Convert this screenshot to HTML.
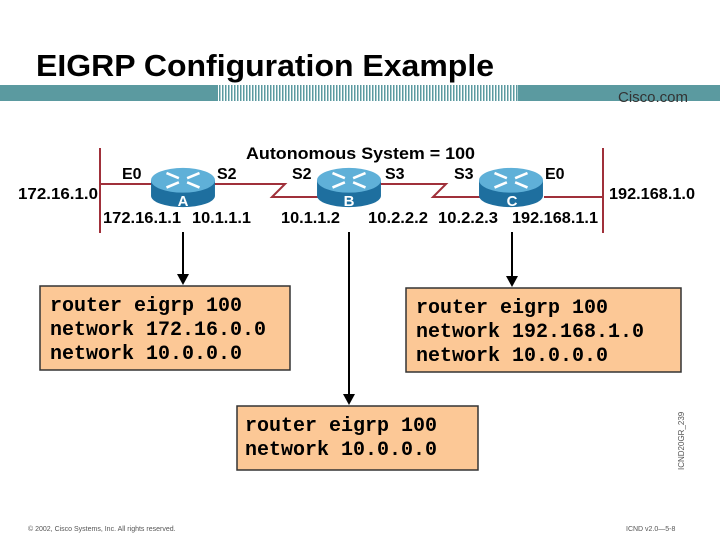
<html><body style="margin:0;background:#fff">
<svg width="720" height="540" xmlns="http://www.w3.org/2000/svg" font-family="Liberation Sans, sans-serif">
<defs>
<pattern id="st" width="3" height="16" patternUnits="userSpaceOnUse"><rect width="3" height="16" fill="#fff"/><rect width="1.5" height="16" fill="#5b9aa0"/></pattern>
<symbol id="r" viewBox="0 0 64 40">
<path d="M1,13 L1,28 A31,11 0 0 0 63,28 L63,13 Z" fill="#1e6f9f"/>
<ellipse cx="32" cy="13" rx="31" ry="12" fill="#5fb0d8"/>
<g stroke="#fff" stroke-width="2.5" fill="none">
<path d="M16,6 L28,11 M48,6 L36,11 M16,20 L28,15 M48,20 L36,15"/>
</g>
</symbol>
</defs>
<text x="36" y="76" font-size="31" font-weight="bold" textLength="458" lengthAdjust="spacingAndGlyphs">EIGRP Configuration Example</text>
<rect x="0" y="85" width="720" height="16" fill="#5b9aa0"/>
<rect x="218" y="85" width="300" height="16" fill="url(#st)"/>
<text x="618" y="102" font-size="15" fill="#333">Cisco.com</text>
<text x="246" y="159" font-size="17" font-weight="bold" textLength="229" lengthAdjust="spacingAndGlyphs">Autonomous System = 100</text>
<g stroke="#a0303a" stroke-width="2" fill="none">
<line x1="100" y1="148" x2="100" y2="233"/><line x1="603" y1="148" x2="603" y2="233"/>
<line x1="100" y1="184" x2="152" y2="184"/>
<polyline points="214,184 285,184 272,197 318,197"/>
<polyline points="380,184 446,184 433,197 480,197"/>
<line x1="544" y1="197" x2="603" y2="197"/>
</g>
<use href="#r" x="150" y="166" width="66" height="43"/>
<use href="#r" x="316" y="166" width="66" height="43"/>
<use href="#r" x="478" y="166" width="66" height="43"/>
<g font-size="15" font-weight="bold" fill="#fff" text-anchor="middle"><text x="183" y="206">A</text><text x="349" y="206">B</text><text x="512" y="206">C</text></g>
<g font-size="16" font-weight="bold">
<text x="122" y="179">E0</text><text x="217" y="179">S2</text><text x="292" y="179">S2</text><text x="385" y="179">S3</text><text x="454" y="179">S3</text><text x="545" y="179">E0</text>
<text x="18" y="199" textLength="80" lengthAdjust="spacingAndGlyphs">172.16.1.0</text><text x="609" y="199" textLength="86" lengthAdjust="spacingAndGlyphs">192.168.1.0</text>
<text x="103" y="223" textLength="78" lengthAdjust="spacingAndGlyphs">172.16.1.1</text><text x="192" y="223" textLength="59" lengthAdjust="spacingAndGlyphs">10.1.1.1</text><text x="281" y="223" textLength="59" lengthAdjust="spacingAndGlyphs">10.1.1.2</text><text x="368" y="223" textLength="60" lengthAdjust="spacingAndGlyphs">10.2.2.2</text><text x="438" y="223" textLength="60" lengthAdjust="spacingAndGlyphs">10.2.2.3</text><text x="512" y="223" textLength="86" lengthAdjust="spacingAndGlyphs">192.168.1.1</text>
</g>
<g stroke="#000" stroke-width="2"><line x1="183" y1="232" x2="183" y2="275"/><line x1="349" y1="232" x2="349" y2="395"/><line x1="512" y1="232" x2="512" y2="277"/></g>
<g fill="#000"><path d="M177,274 L189,274 L183,285Z"/><path d="M343,394 L355,394 L349,405Z"/><path d="M506,276 L518,276 L512,287Z"/></g>
<g fill="#fcc896" stroke="#333" stroke-width="1.5">
<rect x="40" y="286" width="250" height="84"/><rect x="406" y="288" width="275" height="84"/><rect x="237" y="406" width="241" height="64"/>
</g>
<g font-family="Liberation Mono, monospace" font-size="20" font-weight="bold">
<text x="50" y="311">router eigrp 100</text><text x="50" y="335">network 172.16.0.0</text><text x="50" y="359">network 10.0.0.0</text>
<text x="416" y="313">router eigrp 100</text><text x="416" y="337">network 192.168.1.0</text><text x="416" y="361">network 10.0.0.0</text>
<text x="245" y="431">router eigrp 100</text><text x="245" y="455">network 10.0.0.0</text>
</g>
<text x="0" y="0" font-size="8" fill="#555" transform="translate(684,470) rotate(-90)">ICND20GR_239</text>
<text x="28" y="531" font-size="7" fill="#555">© 2002, Cisco Systems, Inc. All rights reserved.</text>
<text x="626" y="531" font-size="7" fill="#555">ICND v2.0—5-8</text>
</svg>
</body></html>
